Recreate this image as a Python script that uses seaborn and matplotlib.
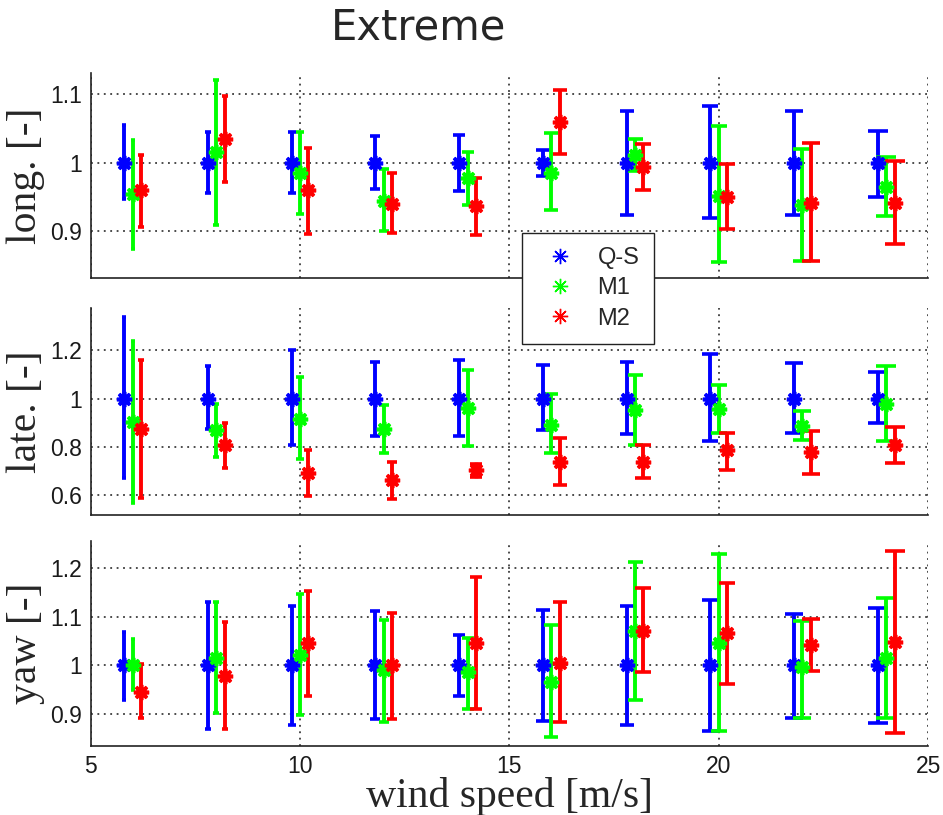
import matplotlib
matplotlib.use("Agg")
import numpy as np
import pandas as pd
import matplotlib.pyplot as plt
from matplotlib.lines import Line2D
import seaborn as sns

# --- data ---
wind_speed = [6, 8, 10, 12, 14, 16, 18, 20, 22, 24]
series_names = ["Q-S", "M1", "M2"]

# longitudinal
long_qs_mid = [1.0] * 10
long_qs_hi = [1.055, 1.045, 1.045, 1.039, 1.040, 1.019, 1.076, 1.083, 1.076, 1.047]
long_qs_lo = [0.946, 0.956, 0.956, 0.961, 0.958, 0.981, 0.923, 0.918, 0.923, 0.950]
long_m1_mid = [0.954, 1.015, 0.984, 0.944, 0.977, 0.985, 1.011, 0.951, 0.937, 0.964]
long_m1_hi = [1.033, 1.121, 1.045, 0.991, 1.016, 1.043, 1.035, 1.053, 1.020, 1.008]
long_m1_lo = [0.873, 0.908, 0.925, 0.899, 0.938, 0.930, 0.988, 0.854, 0.855, 0.922]
long_m2_mid = [0.960, 1.034, 0.959, 0.939, 0.936, 1.060, 0.993, 0.950, 0.941, 0.941]
long_m2_hi = [1.011, 1.098, 1.022, 0.984, 0.977, 1.106, 1.027, 0.998, 1.029, 1.002]
long_m2_lo = [0.906, 0.972, 0.895, 0.897, 0.894, 1.012, 0.960, 0.903, 0.855, 0.880]

# lateral
late_qs_mid = [1.0] * 10
late_qs_hi = [1.338, 1.134, 1.200, 1.154, 1.161, 1.138, 1.153, 1.185, 1.150, 1.110]
late_qs_lo = [0.672, 0.874, 0.808, 0.847, 0.847, 0.868, 0.852, 0.825, 0.858, 0.899]
late_m1_mid = [0.903, 0.868, 0.916, 0.872, 0.961, 0.892, 0.952, 0.959, 0.888, 0.979]
late_m1_hi = [1.240, 0.979, 1.088, 0.972, 1.120, 1.019, 1.098, 1.057, 0.950, 1.137]
late_m1_lo = [0.568, 0.756, 0.750, 0.774, 0.803, 0.774, 0.808, 0.858, 0.830, 0.826]
late_m2_mid = [0.874, 0.807, 0.690, 0.661, 0.703, 0.737, 0.738, 0.786, 0.778, 0.808]
late_m2_hi = [1.161, 0.899, 0.785, 0.735, 0.730, 0.837, 0.808, 0.858, 0.865, 0.881]
late_m2_lo = [0.589, 0.713, 0.596, 0.583, 0.676, 0.641, 0.670, 0.703, 0.688, 0.734]

# yaw
yaw_qs_mid = [1.0] * 10
yaw_qs_hi = [1.068, 1.130, 1.121, 1.111, 1.062, 1.113, 1.122, 1.134, 1.105, 1.118]
yaw_qs_lo = [0.929, 0.870, 0.879, 0.890, 0.938, 0.887, 0.879, 0.866, 0.892, 0.882]
yaw_m1_mid = [1.000, 1.015, 1.022, 0.990, 0.986, 0.967, 1.071, 1.046, 0.997, 1.015]
yaw_m1_hi = [1.054, 1.130, 1.147, 1.094, 1.057, 1.082, 1.211, 1.228, 1.091, 1.138]
yaw_m1_lo = [0.949, 0.902, 0.899, 0.884, 0.912, 0.853, 0.929, 0.866, 0.892, 0.892]
yaw_m2_mid = [0.946, 0.978, 1.045, 1.000, 1.047, 1.005, 1.071, 1.066, 1.042, 1.049]
yaw_m2_hi = [1.003, 1.088, 1.152, 1.108, 1.180, 1.130, 1.158, 1.169, 1.096, 1.234]
yaw_m2_lo = [0.892, 0.870, 0.938, 0.890, 0.912, 0.885, 0.986, 0.962, 0.988, 0.863]

panels = {
    "long. [-]": [(long_qs_mid, long_qs_lo, long_qs_hi),
                  (long_m1_mid, long_m1_lo, long_m1_hi),
                  (long_m2_mid, long_m2_lo, long_m2_hi)],
    "late. [-]": [(late_qs_mid, late_qs_lo, late_qs_hi),
                  (late_m1_mid, late_m1_lo, late_m1_hi),
                  (late_m2_mid, late_m2_lo, late_m2_hi)],
    "yaw [-]": [(yaw_qs_mid, yaw_qs_lo, yaw_qs_hi),
                (yaw_m1_mid, yaw_m1_lo, yaw_m1_hi),
                (yaw_m2_mid, yaw_m2_lo, yaw_m2_hi)],
}

# --- style ---
colors = {"Q-S": "#0000ff", "M1": "#00ff00", "M2": "#ff0000"}
x_shift = {"Q-S": -0.2, "M1": 0.0, "M2": 0.2}
ylims = [(0.83, 1.132), (0.517, 1.375), (0.836, 1.255)]
yticks = [[0.9, 1.0, 1.1], [0.6, 0.8, 1.0, 1.2], [0.9, 1.0, 1.1, 1.2]]
yticklabels = [["0.9", "1", "1.1"], ["0.6", "0.8", "1", "1.2"], ["0.9", "1", "1.1", "1.2"]]
boxes = [(0.0962, 0.6585, 0.888, 0.2523),
         (0.0962, 0.3681, 0.888, 0.2536),
         (0.0962, 0.0850, 0.888, 0.2515)]
asterisk = (8, 2, 0)

sns.set_theme(style="white")
plt.rcParams['font.family'] = ['Liberation Sans', 'DejaVu Sans']

fig = plt.figure(figsize=(9.43, 8.15), dpi=100)

axes = []
for k, (ylabel, series) in enumerate(panels.items()):
    ax = fig.add_axes(boxes[k])
    axes.append(ax)
    for name, (mid, lo, hi) in zip(series_names, series):
        df = pd.DataFrame({"ws": wind_speed, "mid": mid, "lo": lo, "hi": hi})
        df["x"] = df["ws"] + x_shift[name]
        for _, r in df.iterrows():
            # cap width grows with x, as in the original figure
            ax.errorbar(r["x"], r["mid"],
                        yerr=[[r["mid"] - r["lo"]], [r["hi"] - r["mid"]]],
                        color=colors[name], marker=asterisk, markersize=11,
                        markeredgewidth=2.6, linestyle="none",
                        elinewidth=2.8, capsize=0.3 * r["x"], capthick=2.6)
    ax.set_xlim(5, 25)
    ax.set_ylim(*ylims[k])
    ax.set_xticks([5, 10, 15, 20, 25])
    ax.set_yticks(yticks[k])
    ax.set_yticklabels(yticklabels[k])
    ax.grid(True, color="k", linestyle=(0, (1.2, 3.0)), linewidth=1.1)
    ax.tick_params(direction="in", length=6, width=1, labelsize=16.5, pad=6.5,
                   colors="#222222", labelcolor="k")
    for s in ["top", "right"]:
        ax.spines[s].set_visible(False)
    for s in ["left", "bottom"]:
        ax.spines[s].set_color("#222222")
        ax.spines[s].set_linewidth(1.2)
    ax.set_ylabel(ylabel, family="Liberation Serif", fontsize=30)
    ax.yaxis.set_label_coords(-0.055, 0.5)
    if k < 2:
        ax.tick_params(labelbottom=False)

axes[2].set_xlabel("wind speed [m/s]", family="Liberation Serif", fontsize=30)
axes[2].xaxis.set_label_coords(0.5, -0.155)

fig.text(419 / 943, 1 - 28 / 815, "Extreme", ha="center", va="center",
         fontsize=30, family="DejaVu Sans")

handles = [Line2D([], [], color=colors[n], marker=asterisk, markersize=11,
                  markeredgewidth=1.0, linestyle="none") for n in series_names]
leg = fig.legend(handles, series_names, loc="upper left",
                 bbox_to_anchor=(522 / 943, 1 - 233 / 815), fontsize=17,
                 fancybox=False, framealpha=1, edgecolor="#222222",
                 borderpad=0.6, handlelength=2.0, handletextpad=0.6,
                 labelspacing=0.35, borderaxespad=0)
leg.get_frame().set_linewidth(1.0)

fig.savefig("out.png", dpi=100)
